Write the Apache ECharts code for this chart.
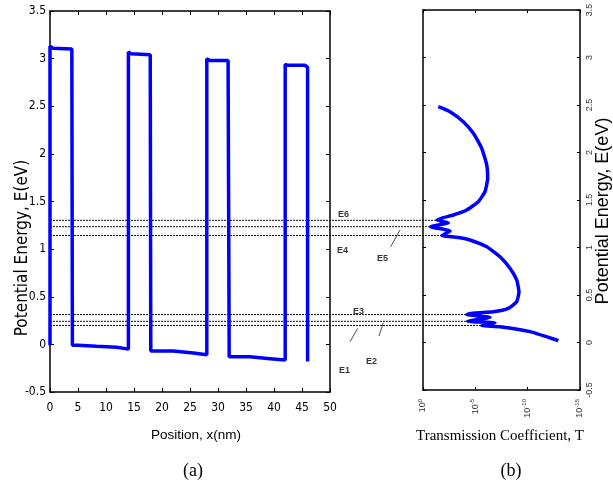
<!DOCTYPE html>
<html lang="en">
<head>
  <meta charset="UTF-8">
  <title>Potential profile and transmission</title>
  <script src="https://cdn.jsdelivr.net/npm/echarts@6/dist/echarts.min.js"></script>
  <style>
    html, body { margin: 0; padding: 0; background: #fff; }
    #main { width: 613px; height: 486px; }
  </style>
</head>
<body>
<div id="main"></div>
<script>
  // (a) potential profile: position in nm, energy in eV
  var position = [0, 0, 0.5, 3.9, 4, 5, 5, 8.3, 8.3, 11.9, 11.9, 14, 14, 14.5, 17.9, 18, 22, 22, 25.6, 25.6, 28,
    28, 28.5, 31.8, 32, 35.7, 35.7, 39.3, 39.3, 42, 42, 42.5, 45.5, 46, 46];
  var potential = [-0.01, 3.13, 3.11, 3.1, -0.01, -0.01, -0.02, -0.02, -0.03, -0.03, -0.05, -0.05, 3.07, 3.05, 3.04,
    -0.07, -0.07, -0.09, -0.09, -0.11, -0.11, 3.0, 2.98, 2.98, -0.13, -0.13, -0.15, -0.15, -0.165, -0.165, 2.94,
    2.93, 2.93, 2.91, -0.18];

  // (b) transmission: log10(T) against energy (eV)
  var logT = [-1.46, -2.58, -3.85, -4.81, -5.61, -6.09, -6.18, -5.92, -5.28, -4.18, -2.90, -1.94, -1.34, -2.42,
    -0.74, -2.58, -1.79, -3.54, -4.49, -6.09, -7.36, -8.31, -8.95, -9.17, -8.95, -8.15, -6.72, -4.97, -4.18,
    -6.40, -4.27, -6.88, -5.61, -7.36, -10.22, -12.77, -12.93];
  var energyT = [2.482, 2.429, 2.324, 2.202, 2.044, 1.868, 1.728, 1.587, 1.482, 1.395, 1.342, 1.314, 1.286, 1.261,
    1.219, 1.174, 1.126, 1.103, 1.079, 1.008, 0.903, 0.781, 0.658, 0.535, 0.429, 0.36, 0.324, 0.31, 0.294,
    0.265, 0.223, 0.208, 0.179, 0.166, 0.114, 0.026, 0.019];

  // resonance levels (dashed lines) and the log10(T) of the peak each one ends at
  var levelNames = ['E6', 'E5', 'E4', 'E3', 'E2', 'E1'];
  var levelEnergy = [1.286, 1.219, 1.126, 0.294, 0.223, 0.179];
  var levelPeakLogT = [-1.34, -0.74, -1.79, -4.18, -4.27, -5.61];

  // annotation labels, in the shared overlay axis (decades, continued to the left)
  var labelX = [8.12, 4.40, 8.22, 6.69, 5.45, 8.03];
  var labelE = [1.342, 0.879, 0.968, 0.326, -0.20, -0.295];
  // little pointer lines for E5, E2, E1
  var pointerX = [[3.09, 2.20], [4.21, 3.79], [6.98, 6.24]];
  var pointerE = [[1.008, 1.184], [0.068, 0.208], [0.008, 0.149]];

  var overlayLeft = 35.64; // overlay axis value at the left edge of plot (a)

  var blue = '#0000ff';
  var narrow = "'Liberation Sans Narrow', 'Arial Narrow', 'DejaVu Sans Condensed', sans-serif";
  var sans = "'Liberation Sans', Arial, sans-serif";
  var serif = "'Liberation Serif', 'Times New Roman', serif";

  function frameAxis(extra) {
    var a = {
      axisLine: {show: true, onZero: false, lineStyle: {color: '#000', width: 1.5}},
      axisTick: {show: true, inside: true, length: 4, lineStyle: {color: '#000', width: 1}},
      axisLabel: {show: false},
      splitLine: {show: false}
    };
    for (var k in extra) a[k] = extra[k];
    return a;
  }

  var profileData = position.map(function (x, i) { return [x, potential[i]]; });
  var transData = logT.map(function (t, i) { return [t, energyT[i]]; });

  var series = [];
  levelNames.forEach(function (n, i) {
    series.push({
      type: 'line', xAxisIndex: 4, yAxisIndex: 4, symbol: 'none', silent: true, z: 1,
      lineStyle: {color: '#111', width: 1, type: [2, 1]},
      data: [[overlayLeft, levelEnergy[i]], [levelPeakLogT[i], levelEnergy[i]]]
    });
  });
  pointerX.forEach(function (px, i) {
    series.push({
      type: 'line', xAxisIndex: 4, yAxisIndex: 4, symbol: 'none', silent: true, z: 1,
      lineStyle: {color: '#222', width: 0.8},
      data: [[px[0], pointerE[i][0]], [px[1], pointerE[i][1]]]
    });
  });
  series.push({
    type: 'scatter', xAxisIndex: 4, yAxisIndex: 4, symbolSize: 0, silent: true,
    label: {
      show: true, position: 'right', distance: 0,
      formatter: function (p) { return p.name; },
      fontFamily: sans, fontWeight: 'bold', fontSize: 9, color: '#000'
    },
    data: levelNames.map(function (n, i) { return {name: n, value: [labelX[i], labelE[i]]}; })
  });
  series.push({
    type: 'line', xAxisIndex: 0, yAxisIndex: 0, symbol: 'none', z: 3,
    lineStyle: {color: blue, width: 3.5}, data: profileData
  });
  series.push({
    type: 'line', xAxisIndex: 2, yAxisIndex: 3, symbol: 'none', z: 3, smooth: 0.15,
    lineStyle: {color: blue, width: 3.5}, data: transData
  });

  var option = {
    animation: false,
    backgroundColor: '#fff',
    grid: [
      {left: 50, top: 11, width: 280, height: 381},
      {left: 423, top: 10, width: 157, height: 380},
      {left: 50, top: 10, width: 530, height: 380}
    ],
    xAxis: [
      frameAxis({
        type: 'value', gridIndex: 0, position: 'bottom', min: 0, max: 50, interval: 5,
        axisLabel: {show: true, margin: 10, fontFamily: narrow, fontSize: 12, color: '#000'}
      }),
      frameAxis({type: 'value', gridIndex: 0, position: 'top', min: 0, max: 50, interval: 5}),
      frameAxis({
        type: 'value', gridIndex: 1, position: 'bottom', min: -15, max: 0, interval: 5, inverse: true,
        axisTick: {show: true, inside: true, length: 3, lineStyle: {color: '#000'}},
        axisLabel: {
          show: true, rotate: 90, margin: 9, color: '#333',
          formatter: function (v) { return '{b|10}{s|' + v + '}'; },
          rich: {
            b: {fontFamily: sans, fontSize: 9, lineHeight: 12, color: '#333'},
            s: {fontFamily: sans, fontSize: 6, verticalAlign: 'top', color: '#333'}
          }
        }
      }),
      frameAxis({
        type: 'value', gridIndex: 1, position: 'top', min: -15, max: 0, interval: 5, inverse: true,
        axisTick: {show: true, inside: true, length: 3, lineStyle: {color: '#000'}}
      }),
      {type: 'value', gridIndex: 2, min: -15, max: overlayLeft, inverse: true, show: false}
    ],
    yAxis: [
      frameAxis({
        type: 'value', gridIndex: 0, position: 'left', min: -0.5, max: 3.5, interval: 0.5,
        axisLabel: {show: true, margin: 4, fontFamily: narrow, fontSize: 12, color: '#000'}
      }),
      frameAxis({type: 'value', gridIndex: 0, position: 'right', min: -0.5, max: 3.5, interval: 0.5}),
      frameAxis({
        type: 'value', gridIndex: 1, position: 'left', min: -0.5, max: 3.5, interval: 0.5,
        axisTick: {show: true, inside: true, length: 3, lineStyle: {color: '#000'}}
      }),
      frameAxis({
        type: 'value', gridIndex: 1, position: 'right', min: -0.5, max: 3.5, interval: 0.5,
        axisTick: {show: true, inside: true, length: 3, lineStyle: {color: '#000'}},
        axisLabel: {show: true, rotate: 90, margin: 5, fontFamily: sans, fontSize: 9, color: '#333'}
      }),
      {type: 'value', gridIndex: 2, min: -0.5, max: 3.5, show: false}
    ],
    graphic: [
      {
        type: 'text', x: 23, y: 248, rotation: Math.PI / 2,
        style: {text: 'Potential Energy, E(eV)', font: '17px ' + narrow, fill: '#000',
          textAlign: 'center', textVerticalAlign: 'middle', align: 'center', verticalAlign: 'middle'}
      },
      {
        type: 'text', x: 603, y: 211, rotation: Math.PI / 2,
        style: {text: 'Potential Energy, E(eV)', font: '18px ' + sans, fill: '#000',
          textAlign: 'center', textVerticalAlign: 'middle', align: 'center', verticalAlign: 'middle'}
      },
      {
        type: 'text', x: 196, y: 435,
        style: {text: 'Position, x(nm)', font: '13.5px ' + sans, fill: '#000',
          textAlign: 'center', textVerticalAlign: 'middle', align: 'center', verticalAlign: 'middle'}
      },
      {
        type: 'text', x: 500, y: 436,
        style: {text: 'Transmission Coefficient, T', font: '15px ' + serif, fill: '#000',
          textAlign: 'center', textVerticalAlign: 'middle', align: 'center', verticalAlign: 'middle'}
      },
      {
        type: 'text', x: 193, y: 471,
        style: {text: '(a)', font: '18px ' + serif, fill: '#000',
          textAlign: 'center', textVerticalAlign: 'middle', align: 'center', verticalAlign: 'middle'}
      },
      {
        type: 'text', x: 511, y: 471,
        style: {text: '(b)', font: '18px ' + serif, fill: '#000',
          textAlign: 'center', textVerticalAlign: 'middle', align: 'center', verticalAlign: 'middle'}
      }
    ],
    series: series
  };

  var myChart = echarts.init(document.getElementById('main'));
  myChart.setOption(option);
</script>
</body>
</html>
